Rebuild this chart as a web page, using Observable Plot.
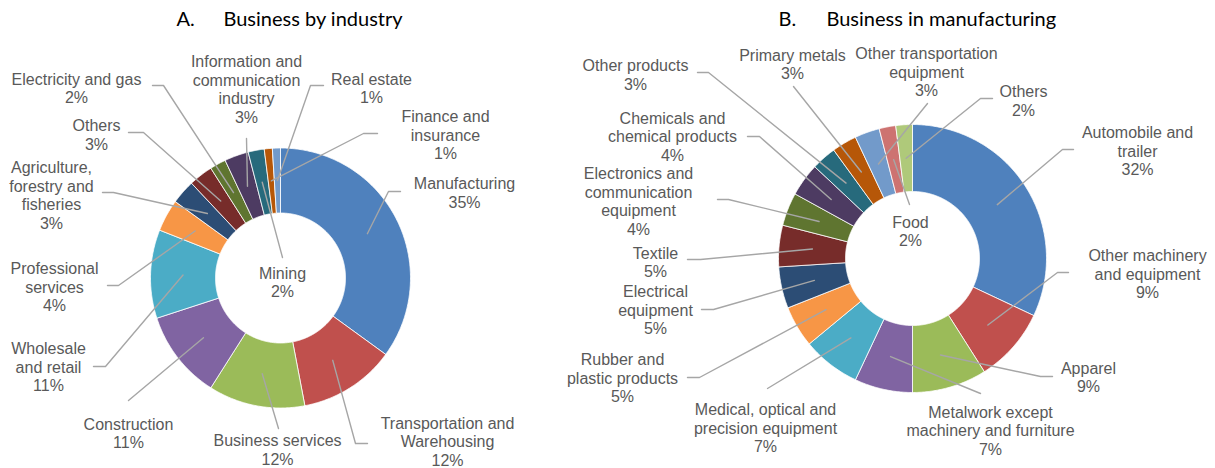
<!DOCTYPE html>
<html><head><meta charset="utf-8">
<script src="https://cdn.jsdelivr.net/npm/d3@7"></script>
<script src="https://cdn.jsdelivr.net/npm/@observablehq/plot@0.6"></script>
<style>body{margin:0;background:#fff}</style>
</head><body><div id="chart"></div>
<script>
// ---------- DATA ----------
const industryCategories = ["Manufacturing","Transportation and Warehousing","Business services","Construction","Wholesale and retail","Professional services","Agriculture, forestry and fisheries","Others","Electricity and gas","Information and communication industry","Mining","Finance and insurance","Real estate"];
const industryValues = [35,12,12,11,11,4,3,3,2,3,2,1,1];
const mfgCategories = ["Automobile and trailer","Other machinery and equipment","Apparel","Metalwork except machinery and furniture","Medical, optical and precision equipment","Rubber and plastic products","Electrical equipment","Textile","Electronics and communication equipment","Chemicals and chemical products","Other products","Primary metals","Other transportation equipment","Food","Others"];
const mfgValues = [32,9,9,7,7,5,5,5,4,4,3,3,3,2,2];
const panelLetters = ["A.","B."];
const panelTitles = ["Business by industry","Business in manufacturing"];

// ---------- STYLE / LAYOUT ----------
const palette = ["#4F81BD","#C0504D","#9BBB59","#8064A2","#4BACC6","#F79646","#2C4D75","#772C2A","#5F7530","#4D3B62","#276A7C","#B65708","#729ACA","#CD7371","#AFC97A"];
const donutA = {id:"A", cx:280, cy:277.5, R:130, r:65};
const donutB = {id:"B", cx:912, cy:258, R:134, r:67};
// label wrapping (line breaks) for display
const wrapA = ["Manufacturing","Transportation and\nWarehousing","Business services","Construction","Wholesale\nand retail","Professional\nservices","Agriculture,\nforestry and\nfisheries","Others","Electricity and gas","Information and\ncommunication\nindustry","Mining","Finance and\ninsurance","Real estate"];
const wrapB = ["Automobile and\ntrailer","Other machinery\nand equipment","Apparel","Metalwork except\nmachinery and furniture","Medical, optical and\nprecision equipment","Rubber and\nplastic products","Electrical\nequipment","Textile","Electronics and\ncommunication\nequipment","Chemicals and\nchemical products","Other products","Primary metals","Other transportation\nequipment","Food","Others"];
// label placement: [labelX, labelY, leaderStartX, leaderStartY, elbowX|null]
const placeA = [
  [464,192, 400,191, 388],
  [447,441, 367,443, 355],
  [277,449, 278,428, null],
  [128,432.5, 128,400, null],
  [48,366.5, 93,366, 105],
  [54,286.5, 107,285, 118],
  [51,194.5, 102,192, 113],
  [96,134, 128,132, 143],
  [76,87.5, 152,85, 163],
  [246,88.5, 246,138, null],
  [282,281.5, 282,257, null],
  [445,134.5, 377,133, 363],
  [371,87.5, 323,85, 310]
];
const placeB = [
  [1137,150.5, 1073,149, 1062],
  [1147,273.5, 1068,272, 1057],
  [1088,376.5, 1052,376, 1040],
  [990,430, 980,393, null],
  [765,427.5, 767,388, null],
  [622,377.5, 687,377, 699],
  [655,309.5, 701,309, 713],
  [655,261.5, 687,259, 700],
  [638,200.5, 717,199, 728],
  [672,136, 747,136, 759],
  [635,74, 697,72, 708],
  [792,63.5, 793,86, null],
  [926,71.5, 927,103, null],
  [910,230.5, 909,204, null],
  [1023,100, 992,98, 980]
];
const titlePos = [[176,223,19],[778,826,19]];

// ---------- BUILD ----------
const sliceRows = [], leaderRows = [], labelRows = [];
function build(cats, vals, g, wrap, place) {
  const arcs = d3.pie().sort(null).value(d => d)(vals);
  arcs.forEach((a, i) => {
    const n = Math.max(2, Math.ceil((a.endAngle - a.startAngle) / 0.01));
    const pts = [];
    for (let k = 0; k <= n; k++) {
      const t = a.startAngle + (a.endAngle - a.startAngle) * k / n;
      pts.push([g.cx + g.R * Math.sin(t), g.cy - g.R * Math.cos(t)]);
    }
    for (let k = n; k >= 0; k--) {
      const t = a.startAngle + (a.endAngle - a.startAngle) * k / n;
      pts.push([g.cx + g.r * Math.sin(t), g.cy - g.r * Math.cos(t)]);
    }
    pts.push(pts[0]);
    const key = g.id + i;
    pts.forEach(p => sliceRows.push({key, x: p[0], y: p[1], color: palette[i % palette.length], cat: cats[i]}));
    // leader line
    const m = (a.startAngle + a.endAngle) / 2, rm = (g.R + g.r) / 2;
    const [lx, ly, sx, sy, ex] = place[i];
    leaderRows.push({key, x: sx, y: sy});
    if (ex !== null) leaderRows.push({key, x: ex, y: sy});
    leaderRows.push({key, x: g.cx + rm * Math.sin(m), y: g.cy - rm * Math.cos(m)});
    labelRows.push({x: lx, y: ly, text: wrap[i] + "\n" + vals[i] + "%"});
  });
}
build(industryCategories, industryValues, donutA, wrapA, placeA);
build(mfgCategories, mfgValues, donutB, wrapB, placeB);

const titleRows = [];
panelLetters.forEach((l, i) => {
  titleRows.push({x: titlePos[i][0], y: titlePos[i][2], text: l});
  titleRows.push({x: titlePos[i][1], y: titlePos[i][2], text: panelTitles[i]});
});

const chart = Plot.plot({
  width: 1215, height: 468, margin: 0,
  x: {domain: [0, 1215], range: [0, 1215], axis: null},
  y: {domain: [0, 468], range: [0, 468], axis: null},
  style: {background: "#fff"},
  marks: [
    Plot.line(sliceRows, {x: "x", y: "y", z: "key", fill: d => d.color, stroke: "#ffffff", strokeWidth: 0.8, curve: "linear"}),
    Plot.line(leaderRows, {x: "x", y: "y", z: "key", stroke: "#A6A6A6", strokeWidth: 1.4, curve: "linear"}),
    Plot.text(labelRows, {x: "x", y: "y", text: "text", fontSize: 16, lineHeight: 1.16, fill: "#595959", fontFamily: "'Liberation Sans', Arial, sans-serif"}),
    Plot.text(titleRows, {x: "x", y: "y", text: "text", textAnchor: "start", fontSize: 20, fill: "#000", fontFamily: "Lato, 'Open Sans', sans-serif"})
  ]
});
document.getElementById("chart").appendChild(chart);
</script>
</body></html>
